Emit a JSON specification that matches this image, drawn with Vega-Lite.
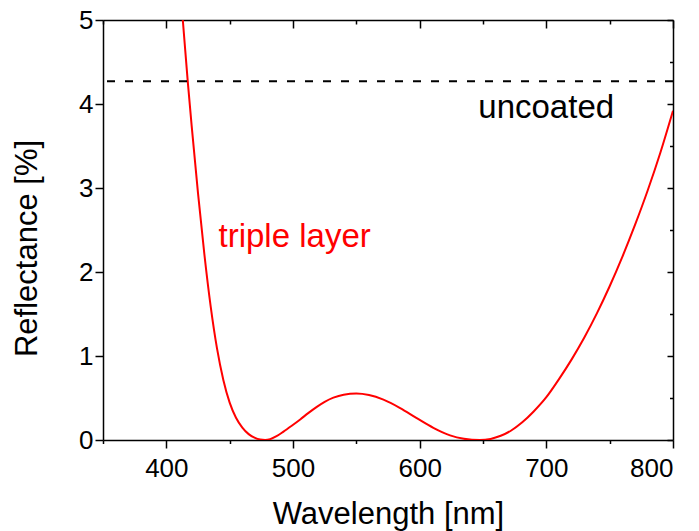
{
  "$schema": "https://vega.github.io/schema/vega-lite/v6.json",
  "width": 570,
  "height": 420,
  "autosize": {"type": "none"},
  "padding": {"left": 103, "top": 20, "right": 26, "bottom": 91},
  "background": "white",
  "config": {
    "view": {"stroke": null},
    "axis": {
      "grid": false,
      "domainColor": "black",
      "domainWidth": 1.5,
      "tickColor": "black",
      "tickWidth": 1.5,
      "labelFont": "Liberation Sans",
      "titleFont": "Liberation Sans",
      "labelColor": "black",
      "titleColor": "black",
      "titleFontWeight": "normal"
    }
  },
  "datasets": {
    "curve": [
      {"wavelength": 411.0, "reflectance": 5.35},
      {"wavelength": 413.0, "reflectance": 5.0},
      {"wavelength": 416.9, "reflectance": 4.27},
      {"wavelength": 420.0, "reflectance": 3.74},
      {"wavelength": 425.0, "reflectance": 2.94},
      {"wavelength": 430.0, "reflectance": 2.215},
      {"wavelength": 435.0, "reflectance": 1.59},
      {"wavelength": 440.0, "reflectance": 1.09},
      {"wavelength": 445.0, "reflectance": 0.715},
      {"wavelength": 450.0, "reflectance": 0.445},
      {"wavelength": 455.0, "reflectance": 0.265},
      {"wavelength": 460.0, "reflectance": 0.148},
      {"wavelength": 465.0, "reflectance": 0.07},
      {"wavelength": 470.0, "reflectance": 0.025},
      {"wavelength": 474.0, "reflectance": 0.006},
      {"wavelength": 478.0, "reflectance": 0.0},
      {"wavelength": 482.0, "reflectance": 0.01},
      {"wavelength": 487.0, "reflectance": 0.045},
      {"wavelength": 492.5, "reflectance": 0.10},
      {"wavelength": 499.0, "reflectance": 0.17},
      {"wavelength": 505.7, "reflectance": 0.245},
      {"wavelength": 512.0, "reflectance": 0.32},
      {"wavelength": 518.8, "reflectance": 0.395},
      {"wavelength": 525.0, "reflectance": 0.455},
      {"wavelength": 531.9, "reflectance": 0.505},
      {"wavelength": 540.0, "reflectance": 0.54},
      {"wavelength": 550.0, "reflectance": 0.553},
      {"wavelength": 560.0, "reflectance": 0.535},
      {"wavelength": 571.4, "reflectance": 0.48},
      {"wavelength": 584.6, "reflectance": 0.38},
      {"wavelength": 597.7, "reflectance": 0.26},
      {"wavelength": 610.8, "reflectance": 0.145},
      {"wavelength": 624.0, "reflectance": 0.055},
      {"wavelength": 635.0, "reflectance": 0.015},
      {"wavelength": 647.5, "reflectance": 0.0},
      {"wavelength": 656.0, "reflectance": 0.013},
      {"wavelength": 664.0, "reflectance": 0.05},
      {"wavelength": 672.0, "reflectance": 0.11},
      {"wavelength": 681.0, "reflectance": 0.21},
      {"wavelength": 690.0, "reflectance": 0.34},
      {"wavelength": 700.0, "reflectance": 0.51},
      {"wavelength": 710.0, "reflectance": 0.725},
      {"wavelength": 720.0, "reflectance": 0.96},
      {"wavelength": 730.0, "reflectance": 1.22},
      {"wavelength": 740.0, "reflectance": 1.51},
      {"wavelength": 750.0, "reflectance": 1.83},
      {"wavelength": 760.0, "reflectance": 2.18},
      {"wavelength": 770.0, "reflectance": 2.56},
      {"wavelength": 780.0, "reflectance": 2.97},
      {"wavelength": 790.0, "reflectance": 3.42},
      {"wavelength": 800.0, "reflectance": 3.92}
    ]
  },
  "layer": [
    {
      "data": {"name": "curve"},
      "mark": {"type": "line", "color": "#ff0000", "strokeWidth": 2, "clip": true, "interpolate": "monotone"},
      "encoding": {
        "x": {
          "field": "wavelength", "type": "quantitative",
          "scale": {"domain": [350, 800], "nice": false, "zero": false},
          "axis": {
            "orient": "bottom",
            "values": [350, 400, 450, 500, 550, 600, 650, 700, 750, 800],
            "format": "d",
            "labelExpr": "datum.value % 100 === 0 ? datum.label : ''",
            "tickSize": {"condition": {"test": "datum.value % 100 === 0", "value": 8}, "value": 3.5},
            "labelFontSize": 26,
            "labelPadding": 7,
            "labelOverlap": false,
            "title": "Wavelength [nm]",
            "titleFontSize": 31,
            "titleY": 59,
            "titleBaseline": "top"
          }
        },
        "y": {
          "field": "reflectance", "type": "quantitative",
          "scale": {"domain": [0, 5], "nice": false},
          "axis": {
            "orient": "left",
            "values": [0, 0.5, 1, 1.5, 2, 2.5, 3, 3.5, 4, 4.5, 5],
            "format": "d",
            "labelExpr": "datum.value % 1 === 0 ? datum.label : ''",
            "tickSize": {"condition": {"test": "datum.value % 1 === 0", "value": 8}, "value": 3.5},
            "labelFontSize": 26,
            "labelPadding": 2,
            "labelOverlap": false,
            "title": "Reflectance [%]",
            "titleFontSize": 31,
            "titleAngle": -90,
            "titleX": -76,
            "titleY": 228,
            "titleAlign": "center",
            "titleBaseline": "middle"
          }
        }
      }
    },
    {
      "data": {"values": [{"level": 4.27}]},
      "mark": {"type": "rule", "color": "black", "strokeWidth": 2, "strokeDash": [8, 10]},
      "encoding": {
        "y": {"field": "level", "type": "quantitative", "scale": {"domain": [0, 5], "nice": false}, "axis": null}
      }
    },
    {
      "data": {"values": [{"wavelength": 646.3, "reflectance": 3.83, "label": "uncoated"}]},
      "mark": {"type": "text", "align": "left", "baseline": "alphabetic", "font": "Liberation Sans", "fontSize": 33, "color": "black"},
      "encoding": {
        "x": {
          "field": "wavelength", "type": "quantitative",
          "scale": {"domain": [350, 800], "nice": false, "zero": false},
          "axis": {
            "orient": "top",
            "values": [350, 400, 450, 500, 550, 600, 650, 700, 750, 800],
            "labels": false,
            "title": null,
            "tickSize": {"condition": {"test": "datum.value % 100 === 0", "value": -8}, "value": -4}
          }
        },
        "y": {
          "field": "reflectance", "type": "quantitative",
          "scale": {"domain": [0, 5], "nice": false},
          "axis": {
            "orient": "right",
            "values": [0, 0.5, 1, 1.5, 2, 2.5, 3, 3.5, 4, 4.5, 5],
            "labels": false,
            "title": null,
            "tickSize": {"condition": {"test": "datum.value % 1 === 0", "value": -6}, "value": -3.5}
          }
        },
        "text": {"field": "label"}
      }
    },
    {
      "data": {"values": [{"wavelength": 441.2, "reflectance": 2.294, "label": "triple layer"}]},
      "mark": {"type": "text", "align": "left", "baseline": "alphabetic", "font": "Liberation Sans", "fontSize": 33, "color": "#ff0000"},
      "encoding": {
        "x": {"field": "wavelength", "type": "quantitative", "scale": {"domain": [350, 800], "nice": false, "zero": false}, "axis": null},
        "y": {"field": "reflectance", "type": "quantitative", "scale": {"domain": [0, 5], "nice": false}, "axis": null},
        "text": {"field": "label"}
      }
    }
  ],
  "resolve": {"axis": {"x": "independent", "y": "independent"}}
}
